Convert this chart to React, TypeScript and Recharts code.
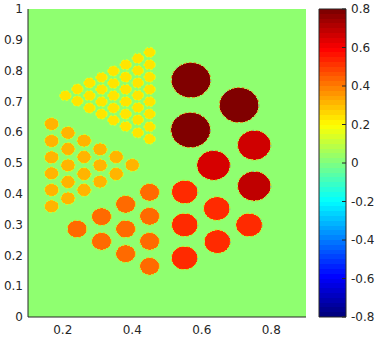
import { ScatterChart, Scatter, XAxis, YAxis, ReferenceArea } from 'recharts';

// [x, y, value] of each disc
const largeDiscs = [
  [0.569, 0.769, 0.8],
  [0.7075, 0.688, 0.8],
  [0.568, 0.607, 0.8],
];
const mediumDiscs = [
  [0.751, 0.558, 0.675],
  [0.634, 0.4925, 0.665],
  [0.751, 0.425, 0.7],
];
const redDiscs = [
  [0.551, 0.406, 0.534],
  [0.643, 0.352, 0.534],
  [0.551, 0.299, 0.534],
  [0.7364, 0.299, 0.534],
  [0.6448, 0.2446, 0.534],
  [0.5503, 0.1916, 0.534],
];
const orangeDiscs = [
  [0.45, 0.405, 0.434],
  [0.381, 0.366, 0.434],
  [0.45, 0.327, 0.434],
  [0.3115, 0.3257, 0.434],
  [0.381, 0.2857, 0.434],
  [0.241, 0.2857, 0.434],
  [0.45, 0.2457, 0.434],
  [0.3115, 0.2457, 0.434],
  [0.381, 0.2055, 0.434],
  [0.45, 0.1646, 0.434],
];
const amberDiscs = [
  [0.168, 0.6266, 0.318],
  [0.215, 0.598, 0.318],
  [0.168, 0.5714, 0.318],
  [0.2613, 0.5724, 0.318],
  [0.215, 0.5455, 0.318],
  [0.3075, 0.5445, 0.318],
  [0.168, 0.5185, 0.318],
  [0.2613, 0.5195, 0.318],
  [0.3537, 0.5195, 0.318],
  [0.215, 0.4925, 0.318],
  [0.3075, 0.4925, 0.318],
  [0.4, 0.4935, 0.318],
  [0.168, 0.4665, 0.318],
  [0.2613, 0.4643, 0.318],
  [0.3537, 0.4643, 0.318],
  [0.215, 0.4383, 0.318],
  [0.3075, 0.4393, 0.318],
  [0.168, 0.4123, 0.318],
  [0.2613, 0.4123, 0.318],
  [0.215, 0.3854, 0.318],
  [0.168, 0.3594, 0.318],
];
const yellowDiscs = [
  [0.2075, 0.7186, 0.24],
  [0.242, 0.74, 0.24],
  [0.242, 0.701, 0.24],
  [0.277, 0.76, 0.24],
  [0.277, 0.7186, 0.24],
  [0.277, 0.6786, 0.24],
  [0.3115, 0.778, 0.24],
  [0.3115, 0.739, 0.24],
  [0.3115, 0.699, 0.24],
  [0.3115, 0.659, 0.24],
  [0.346, 0.7987, 0.24],
  [0.346, 0.7587, 0.24],
  [0.346, 0.7186, 0.24],
  [0.346, 0.6786, 0.24],
  [0.346, 0.6386, 0.24],
  [0.381, 0.819, 0.24],
  [0.381, 0.779, 0.24],
  [0.381, 0.739, 0.24],
  [0.381, 0.699, 0.24],
  [0.381, 0.659, 0.24],
  [0.381, 0.619, 0.24],
  [0.416, 0.84, 0.24],
  [0.416, 0.7997, 0.24],
  [0.416, 0.76, 0.24],
  [0.416, 0.72, 0.24],
  [0.416, 0.68, 0.24],
  [0.416, 0.64, 0.24],
  [0.416, 0.598, 0.24],
  [0.45, 0.8594, 0.24],
  [0.45, 0.819, 0.24],
  [0.45, 0.779, 0.24],
  [0.45, 0.739, 0.24],
  [0.45, 0.699, 0.24],
  [0.45, 0.659, 0.24],
  [0.45, 0.6175, 0.24],
  [0.45, 0.578, 0.24],
];

const xTicks = [0.2, 0.4, 0.6, 0.8];
const yTicks = [0, 0.1, 0.2, 0.3, 0.4, 0.5, 0.6, 0.7, 0.8, 0.9, 1];
const colorTicks = [-0.8, -0.6, -0.4, -0.2, 0, 0.2, 0.4, 0.6, 0.8];
const backgroundValue = 0.025;
const COLOR_LEVELS = 64;

const TEXT = '#262626';
const FONT = '"DejaVu Sans", sans-serif';
const PX_PER_X = 346;
const PX_PER_Y = 308;

const clamp = (v: number) => Math.max(0, Math.min(1, v));
const toHex = (v: number) => Math.round(clamp(v) * 255).toString(16).padStart(2, '0');

// MATLAB jet, t in 0..1
const jet = (t: number) =>
  '#' +
  toHex(1.5 - Math.abs(4 * t - 3)) +
  toHex(1.5 - Math.abs(4 * t - 2)) +
  toHex(1.5 - Math.abs(4 * t - 1));

const valueColor = (v: number) => jet((v + 0.8) / 1.6);

const toPoints = (discs: number[][], r: number, rim: number) =>
  discs.map(([x, y, value]) => ({ x, y, value, r, rim }));

// crisp fill gives the blocky outline of the image pixels, broken rim the speckled edge
const Disc = ({ cx, cy, payload }: any) => {
  const rx = payload.r * PX_PER_X;
  const ry = payload.r * PX_PER_Y;
  return (
    <g>
      <ellipse cx={cx} cy={cy} rx={rx} ry={ry} fill={valueColor(payload.value)} shapeRendering="crispEdges" />
      <ellipse cx={cx} cy={cy} rx={rx + 0.3} ry={ry + 0.3} fill="none" stroke={valueColor(payload.rim)} strokeWidth={0.8} strokeDasharray="3 2" />
      {payload.r > 0.03 && (
        <ellipse cx={cx} cy={cy} rx={rx + 0.3} ry={ry + 0.3} fill="none" stroke="#30b0ff" strokeWidth={0.7} strokeDasharray="1.5 70" />
      )}
    </g>
  );
};

const groups = [
  { name: 'large', points: toPoints(largeDiscs, 0.056, 0.45) },
  { name: 'medium', points: toPoints(mediumDiscs, 0.047, 0.38) },
  { name: 'red', points: toPoints(redDiscs, 0.037, 0.3) },
  { name: 'orange', points: toPoints(orangeDiscs, 0.0275, 0.28) },
  { name: 'amber', points: toPoints(amberDiscs, 0.0195, 0.22) },
  { name: 'yellow', points: toPoints(yellowDiscs, 0.0155, 0.2) },
];

const bands = Array.from({ length: COLOR_LEVELS }, (_, i) => ({
  lo: -0.8 + (1.6 * i) / COLOR_LEVELS,
  hi: -0.8 + (1.6 * (i + 1)) / COLOR_LEVELS,
  color: jet(i / (COLOR_LEVELS - 1)),
}));
const bandAnchors = bands.map(b => ({ x: 0.5, y: b.lo }));

const tickStyle = { fontSize: 12, fontFamily: FONT, fill: TEXT };
const axisLine = { stroke: TEXT, strokeWidth: 1 };

export default function App() {
  return (
    <div style={{ position: 'absolute', left: 0, top: 0, width: 384, height: 341 }}>
      <div style={{ position: 'absolute', left: 0, top: 0 }}>
        <ScatterChart width={384} height={341} margin={{ top: 9, right: 78, bottom: 0, left: 0 }}>
          <XAxis
            type="number"
            dataKey="x"
            domain={[0.1, 0.9]}
            ticks={xTicks}
            tick={tickStyle}
            tickLine={false}
            tickSize={0}
            tickMargin={8}
            axisLine={axisLine}
            height={24}
          />
          <YAxis
            type="number"
            dataKey="y"
            domain={[0, 1]}
            ticks={yTicks}
            tick={tickStyle}
            tickLine={false}
            tickSize={0}
            tickMargin={5}
            interval={0}
            axisLine={axisLine}
            width={28}
          />
          <ReferenceArea
            x1={0.1}
            x2={0.9}
            y1={0}
            y2={1}
            fill={valueColor(backgroundValue)}
            fillOpacity={1}
            stroke="none"
          />
          {groups.map(g => (
            <Scatter
              key={g.name}
              data={g.points}
              isAnimationActive={false}
              shape={(props: any) => <Disc {...props} />}
            />
          ))}
        </ScatterChart>
      </div>
      <div style={{ position: 'absolute', left: 0, top: 0 }}>
        <ScatterChart width={384} height={341} margin={{ top: 9, right: 0, bottom: 24, left: 319 }}>
          <XAxis type="number" dataKey="x" domain={[0, 1]} hide />
          <YAxis
            type="number"
            dataKey="y"
            orientation="right"
            domain={[-0.8, 0.8]}
            ticks={colorTicks}
            tick={tickStyle}
            tickSize={-4}
            tickMargin={9}
            interval={0}
            tickLine={{ stroke: TEXT }}
            axisLine={false}
            width={38}
          />
          {bands.map(b => (
            <ReferenceArea
              key={b.lo}
              x1={0}
              x2={1}
              y1={b.lo}
              y2={b.hi}
              fill={b.color}
              fillOpacity={1}
              stroke="none"
              shapeRendering="crispEdges"
            />
          ))}
          <ReferenceArea x1={0} x2={1} y1={-0.8} y2={0.8} fill="none" stroke={TEXT} strokeWidth={1} />
          <Scatter data={bandAnchors} isAnimationActive={false} shape={() => <g />} />
        </ScatterChart>
      </div>
    </div>
  );
}
